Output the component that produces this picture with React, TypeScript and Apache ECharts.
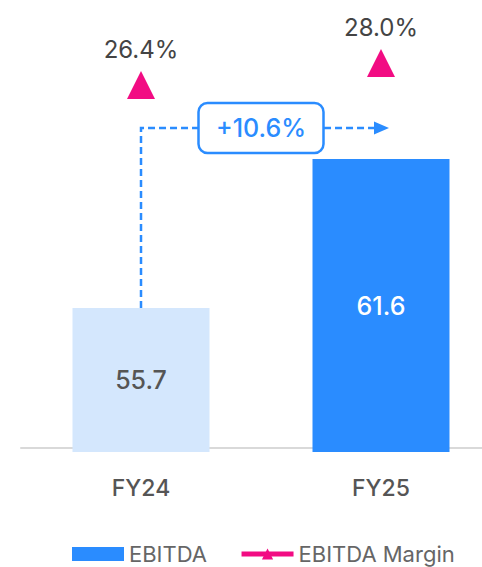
import React, { useEffect, useRef } from "react";
import * as echarts from "echarts";

const categories = ["FY24", "FY25"];
const ebitda = [55.7, 61.6];
const margin = [26.4, 28.0];
const growthLabel = "+10.6%";

const BLUE = "#2a8cff";
const LIGHT = "#d4e7fd";
const PINK = "#f20c83";

export default function App() {
  const ref = useRef<HTMLDivElement>(null);
  useEffect(() => {
    if (!ref.current) return;
    document.body.style.margin = "0";
    document.body.style.overflow = "hidden";
    const chart = echarts.init(ref.current, null, { renderer: "svg" });
    const font = "Inter, 'Noto Sans', sans-serif";
    chart.setOption({
      animation: false,
      textStyle: { fontFamily: font },
      grid: { left: 21, width: 480, top: 48, bottom: 115, outerBoundsMode: "none", containLabel: false },
      legend: {
        left: 72,
        top: 543,
        padding: 0,
        itemWidth: 52,
        itemHeight: 14,
        itemGap: 32,
        textStyle: { fontSize: 22, color: "#666", fontFamily: font },
        data: [
          { name: "EBITDA", icon: "rect", itemStyle: { color: BLUE } },
          {
            name: "EBITDA Margin",
            lineStyle: { opacity: 1, width: 5, color: PINK },
          },
        ],
      },
      xAxis: {
        type: "category",
        data: categories,
        axisTick: { show: false },
        axisLine: { lineStyle: { color: "#d9d9d9", width: 2 } },
        axisLabel: {
          margin: 24,
          fontSize: 23,
          fontWeight: 500,
          color: "#555",
          fontFamily: font,
        },
      },
      yAxis: [
        { type: "value", min: 50, max: 66, show: false },
        { type: "value", min: -0.3, max: 29.1, show: false },
      ],
      series: [
        {
          name: "EBITDA",
          type: "bar",
          barWidth: 137,
          data: ebitda.map((v, i) => ({
            value: v,
            itemStyle: { color: i === 0 ? LIGHT : BLUE },
            label: { color: i === 0 ? "#555" : "#fff" },
          })),
          itemStyle: { color: BLUE },
          label: {
            show: true,
            position: "inside",
            fontSize: 25,
            fontWeight: 500,
            fontFamily: font,
          },
        },
        {
          name: "EBITDA Margin",
          type: "line",
          yAxisIndex: 1,
          data: margin,
          symbol: "triangle",
          symbolSize: 28,
          itemStyle: { color: PINK },
          lineStyle: { opacity: 0, width: 5, color: PINK },
          label: {
            show: true,
            position: "top",
            distance: 10,
            fontSize: 24,
            color: "#444",
            fontFamily: font,
            formatter: (p: any) => p.value.toFixed(1) + "%",
          },
        },
      ],
    });

    const p1 = chart.convertToPixel({ seriesIndex: 0 }, [0, ebitda[0]]) as number[];
    const p2 = chart.convertToPixel({ seriesIndex: 0 }, [1, ebitda[1]]) as number[];
    const yH = p2[1] - 31;
    const tipX = p2[0] + 8;
    const midX = (p1[0] + p2[0]) / 2;
    const boxW = 125;
    const boxH = 50;
    const dash = { stroke: BLUE, lineWidth: 2.5, lineDash: [7, 4], fill: null };
    chart.setOption({
      graphic: [
        {
          type: "polyline",
          shape: {
            points: [
              [p1[0], p1[1]],
              [p1[0], yH],
              [tipX - 14, yH],
            ],
          },
          style: dash,
          z: 10,
        },
        {
          type: "polygon",
          shape: {
            points: [
              [tipX - 15, yH - 6.5],
              [tipX - 15, yH + 6.5],
              [tipX, yH],
            ],
          },
          style: { fill: BLUE },
          z: 10,
        },
        {
          type: "rect",
          shape: { x: midX - boxW / 2, y: yH - boxH / 2, width: boxW, height: boxH, r: 9 },
          style: { fill: "#fff", stroke: BLUE, lineWidth: 2.5 },
          z: 11,
        },
        {
          type: "text",
          x: midX,
          y: yH,
          style: {
            text: growthLabel,
            fill: BLUE,
            fontSize: 25,
            fontWeight: 500,
            fontFamily: font,
            align: "center",
            verticalAlign: "middle",
          },
          z: 12,
        },
      ],
    });
    return () => chart.dispose();
  }, []);
  return <div ref={ref} style={{ width: 482, height: 567, position: "absolute", left: 0, top: 0 }} />;
}
